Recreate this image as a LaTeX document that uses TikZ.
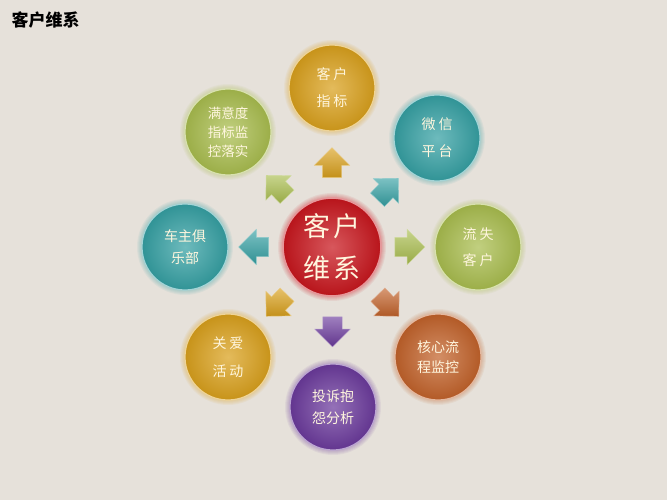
\documentclass[tikz,border=0pt]{standalone}
\usepackage{fontspec}
\setmainfont{Noto Sans CJK SC}
\usetikzlibrary{shapes.arrows,calc}
\definecolor{bg}{HTML}{E6E1DA}
\definecolor{cream}{HTML}{FFF6DE}
\definecolor{cred}{HTML}{C8161D}
\definecolor{cgold}{HTML}{D9A01C}
\definecolor{cteal}{HTML}{35A0A3}
\definecolor{cgreen}{HTML}{A9BD4E}
\definecolor{crust}{HTML}{C2622A}
\definecolor{cpurple}{HTML}{6B3A9C}
\tikzset{
    ball/.style={circle, minimum size=86pt, inner sep=0pt, align=center, text=cream,
        inner color=#1!72!white, outer color=#1!92!black, draw=#1!45!white, line width=1.2pt,
        font=\fontsize{14}{20}\selectfont},
    glow/.style={fill=#1, opacity=0.07},
    blk/.style={single arrow, minimum height=30pt, inner xsep=0pt, inner ysep=9.5pt,
        single arrow head extend=8pt, top color=#1!65!white, bottom color=#1!90!black,
        draw=#1!55!white, line width=0.4pt}
}
\newcommand{\gp}{\hspace{3pt}}

\begin{document}
\begin{tikzpicture}[x=1pt, y=-1pt]
    \useasboundingbox (0,0) rectangle (667,500);
    \fill[bg] (0,0) rectangle (667,500);

    \node[anchor=west, font=\bfseries\fontsize{17}{17}\selectfont] (title) at (8,20) {客户维系};

    % soft halos
    \foreach \x/\y/\r/\c in {332/247/49/cred, 332/88/43/cgold, 437/138/43/cteal, 478/247/43/cgreen,
        438/357/43/crust, 333/407/43/cpurple, 228/357/43/cgold, 185/247/43/cteal, 228/132/43/cgreen}
        \foreach \k in {1,...,5}
            \fill[glow=\c] (\x,\y) circle (\r+\k);

    \node (main) [ball=cred, minimum size=98pt, line width=1.6pt, font=\fontsize{27}{42}\selectfont] at (332,247)
        {客\gp 户\\维\gp 系};

    \node (zb) [ball=cgold] at (332,88) {客\gp 户\\[7pt]指\gp 标};
    \node (wx) [ball=cteal] at (437,138) {微\gp 信\\[7pt]平\gp 台};
    \node (ls) [ball=cgreen] at (478,247) {流\gp 失\\[6pt]客\gp 户};
    \node (hx) [ball=crust] at (438,357) {核心流\\程监控};
    \node (ts) [ball=cpurple] at (333,407) {投诉抱\\[2pt]怨分析};
    \node (ga) [ball=cgold] at (228,357) {关\gp 爱\\[8pt]活\gp 动};
    \node (cz) [ball=cteal] at (185,247) {车主俱\\[2pt]乐部};
    \node (my) [ball=cgreen, font=\fontsize{13.5}{19}\selectfont] at (228,132) {满意度\\指标监\\控落实};

    % block arrows, halfway between centre and each circle
    \foreach \o/\c/\a in {zb/cgold/90, wx/cteal/46, ls/cgreen/0, hx/crust/-46,
        ts/cpurple/-90, ga/cgold/-134, cz/cteal/180, my/cgreen/134}
        \node (a-\o) [blk=\c, rotate=\a] at ($(main)!0.5!(\o)$) {};

\end{tikzpicture}
\end{document}
